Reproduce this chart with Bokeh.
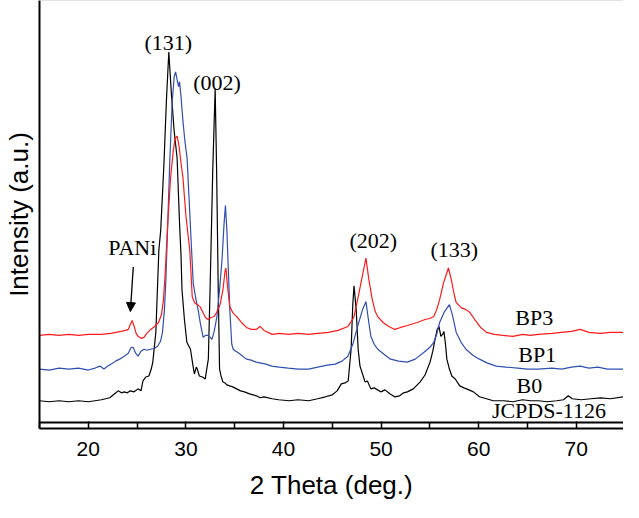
from bokeh.plotting import figure
from bokeh.models import Range1d, Span, Arrow, NormalHead, SingleIntervalTicker, FixedTicker
from bokeh.core.properties import value
from bokeh.embed import file_html
from bokeh.resources import INLINE

# ---------------- data (2 theta in degrees, intensity in a.u.) ----------------
b0_x = [15.0, 16.0, 17.0, 18.0, 19.0, 20.0, 21.35, 22.2, 22.7, 23.07, 23.4, 23.68, 24.0, 24.3, 24.69,
        25.1, 25.4, 25.6, 25.9, 26.21, 26.45, 26.61, 26.92, 27.23, 27.42, 27.75, 28.0, 28.25, 28.5,
        28.8, 29.1, 29.35, 29.5, 29.6, 29.85, 30.1, 30.47, 30.7, 30.87, 31.07, 31.17, 31.38, 31.7,
        31.98, 32.3, 32.5, 32.75, 33.0, 33.15, 33.3, 33.45, 33.6, 33.79, 34.0, 34.2, 34.49, 34.8,
        35.2, 35.6, 36.0, 36.52, 36.9, 37.22, 37.6, 38.0, 38.84, 39.5, 40.56, 41.5, 42.58, 43.5,
        44.3, 45.0, 45.5, 45.92, 46.3, 46.63, 46.93, 47.1, 47.23, 47.45, 47.65, 47.84, 48.1, 48.35,
        48.6, 48.95, 49.3, 49.96, 50.4, 50.9, 51.38, 51.9, 52.3, 52.69, 53.3, 54.01, 54.5, 55.02,
        55.3, 55.53, 55.75, 55.93, 56.13, 56.3, 56.44, 56.6, 56.74, 57.0, 57.25, 57.6, 58.06, 58.5,
        59.0, 59.47, 60.08, 60.8, 61.49, 62.5, 63.5, 64.5, 65.3, 66.14, 67.0, 68.0, 68.7, 69.18,
        69.58, 70.5, 71.5, 72.5, 73.5, 74.84]
b0_y = [28, 27, 28, 27, 28, 27, 29, 31, 35, 38, 36, 37, 36, 38, 37,
        40, 38, 48, 52, 53, 60, 67, 97, 180, 200, 267, 330, 380, 340,
        300, 273, 207, 175, 140, 110, 87, 80, 65, 55, 62, 60, 53, 52,
        50, 70, 150, 260, 343, 260, 150, 60, 53, 47, 46, 44, 43, 42,
        40, 38, 37, 35, 34, 33, 31, 32, 30, 29, 28, 29, 28, 30,
        32, 34, 38, 45, 46, 48, 80, 125, 144, 120, 80, 63, 55, 47,
        48, 40, 41, 37, 39, 35, 32, 33, 36, 37, 40, 47, 54, 67,
        78, 90, 100, 103, 93, 95, 98, 85, 70, 60, 53, 50, 43, 41,
        39, 37, 32, 30, 28, 28, 27, 29, 28, 28, 27, 28, 29, 33,
        30, 29, 30, 31, 30, 32]

bp1_x = [15.0, 16.0, 17.0, 18.0, 19.0, 20.0, 20.7, 21.2, 21.6, 22.0, 22.36, 22.8, 23.2, 23.68, 24.1,
         24.4, 24.59, 24.85, 25.1, 25.4, 25.7, 26.0, 26.4, 26.8, 27.1, 27.4, 27.6, 27.8, 27.95, 28.15,
         28.35, 28.6, 28.8, 28.95, 29.1, 29.25, 29.35, 29.5, 29.7, 29.9, 30.12, 30.45, 30.75, 31.0,
         31.25, 31.5, 31.77, 32.0, 32.27, 32.5, 32.67, 32.9, 33.18, 33.45, 33.7, 33.9, 34.05, 34.2,
         34.35, 34.5, 34.7, 34.85, 35.1, 35.3, 35.7, 36.2, 36.7, 37.2, 37.7, 38.2, 38.8, 39.55, 40.5,
         41.5, 42.58, 43.5, 44.5, 45.3, 46.0, 46.6, 47.1, 47.6, 48.1, 48.45, 48.7, 48.95, 49.3, 49.66,
         50.3, 50.97, 51.8, 52.69, 53.5, 54.4, 55.0, 55.4, 55.7, 56.0, 56.5, 57.0, 57.3, 57.7, 58.2,
         58.7, 59.4, 60.08, 60.9, 61.8, 62.8, 64.0, 65.0, 66.1, 67.5, 68.5, 69.5, 70.4, 71.3, 72.2,
         73.2, 74.84]
bp1_y = [60, 59, 61, 60, 61, 59, 61, 63, 60, 63, 65, 68, 70, 73, 76,
         82, 82, 76, 73, 78, 80, 79, 80, 81, 83, 88, 97, 120, 150, 210,
         270, 330, 355, 360, 352, 345, 350, 335, 310, 290, 273, 207, 147, 132,
         120, 105, 92, 94, 94, 92, 90, 98, 113, 140, 170, 205, 225, 200,
         160, 120, 85, 80, 78, 77, 74, 70, 69, 67, 66, 65, 63, 62, 61,
         60, 60, 62, 64, 65, 68, 73, 85, 103, 120, 128, 110, 93, 85, 80,
         75, 70, 68, 67, 70, 77, 82, 87, 95, 107, 118, 125, 115, 97, 87,
         80, 74, 70, 66, 63, 62, 61, 60, 60, 61, 60, 62, 63, 61, 62,
         60, 60]

bp3_x = [15.0, 16.0, 17.0, 18.0, 19.0, 20.0, 21.35, 22.3, 23.37, 23.8, 24.1, 24.3, 24.5, 24.7, 24.9,
         25.1, 25.4, 25.7, 26.0, 26.4, 26.8, 27.2, 27.5, 27.7, 27.9, 28.1, 28.43, 28.7, 28.9, 29.1,
         29.3, 29.5, 29.7, 30.0, 30.4, 30.65, 30.9, 31.2, 31.45, 31.7, 32.0, 32.27, 32.6, 32.9, 33.2,
         33.5, 33.8, 34.0, 34.1, 34.25, 34.5, 34.8, 35.2, 35.7, 36.2, 36.7, 37.2, 37.6, 38.0, 38.84,
         39.6, 40.5, 41.5, 42.58, 43.5, 44.6, 45.6, 46.6, 47.2, 47.6, 48.0, 48.45, 48.75, 49.1, 49.4,
         49.66, 50.2, 50.8, 51.4, 52.0, 52.7, 53.7, 54.5, 55.0, 55.4, 55.7, 56.0, 56.4, 56.9, 57.2,
         57.5, 57.7, 58.2, 58.7, 59.1, 59.6, 60.2, 60.8, 61.6, 62.5, 63.5, 64.5, 65.3, 66.1, 67.5,
         68.5, 69.5, 70.4, 71.3, 72.5, 73.5, 74.84]
bp3_y = [94, 95, 94, 95, 94, 95, 95, 96, 98, 99, 100, 105, 109, 103, 96,
         93, 91, 92, 96, 100, 103, 107, 115, 130, 160, 200, 253, 280, 293, 295,
         285, 268, 253, 215, 180, 133, 127, 125, 123, 118, 112, 110, 112, 113, 118,
         125, 140, 158, 162, 145, 123, 117, 113, 107, 102, 100, 100, 103, 99, 95,
         96, 95, 96, 95, 96, 97, 99, 103, 112, 130, 150, 172, 150, 130, 118,
         113, 107, 103, 100, 102, 104, 107, 110, 111, 113, 120, 130, 147, 162, 150,
         135, 127, 122, 120, 117, 110, 102, 97, 95, 94, 93, 95, 94, 95, 96,
         97, 98, 100, 97, 96, 97, 97]

peak_labels = ["(131)", "(002)", "(202)", "(133)", "PANi"]
peak_label_x = [28.2, 33.2, 49.2, 57.5, 24.5]
peak_label_y = [390, 349, 190, 181, 183]

series_labels = ["BP3", "BP1", "B0", "JCPDS-1126"]
series_label_x = [65.7, 66.0, 65.2, 67.2]
series_label_y = [112, 75, 43, 18]

x_ticks = [20, 30, 40, 50, 60, 70]

# ---------------- figure ----------------
p = figure(width=623, height=502, output_backend="svg", toolbar_location=None,
           x_range=Range1d(15, 74.84), y_range=Range1d(0, 432),
           min_border_left=34, min_border_right=0, min_border_top=0, min_border_bottom=72)
p.outline_line_color = None
p.grid.visible = False
p.background_fill_color = "white"
p.border_fill_color = "white"

p.line(b0_x, b0_y, line_color="#000000", line_width=1.2)
p.line(bp1_x, bp1_y, line_color="#2f4fb0", line_width=1.2)
p.line(bp3_x, bp3_y, line_color="#ff1a1a", line_width=1.2)

serif = value("Liberation Serif")
p.text(x=peak_label_x, y=peak_label_y, text=peak_labels, text_font=serif,
       text_font_size="22px", text_align="center", text_baseline="middle", text_color="black")
p.text(x=series_label_x, y=series_label_y, text=series_labels, text_font=serif,
       text_font_size="22px", text_align="center", text_baseline="middle", text_color="black")

p.add_layout(Arrow(end=NormalHead(size=9, fill_color="black", line_color="black", line_width=1),
                   x_start=24.61, y_start=163, x_end=24.31, y_end=118,
                   line_color="black", line_width=1.3))

# top light frame line and inner axis line
p.add_layout(Span(location=432, dimension="width", line_color="#c8c8c8", line_width=1))
p.add_layout(Span(location=6, dimension="width", line_color="black", line_width=2))

xa = p.xaxis[0]
xa.ticker = FixedTicker(ticks=x_ticks, minor_ticks=[15, 25, 35, 45, 55, 65])
xa.axis_line_width = 2
xa.axis_line_color = "black"
xa.major_tick_in = 7
xa.major_tick_out = 0
xa.minor_tick_in = 6
xa.minor_tick_out = 0
xa.major_tick_line_width = 1.5
xa.minor_tick_line_width = 1.5
xa.major_tick_line_color = "black"
xa.minor_tick_line_color = "black"
xa.major_label_text_font = "Liberation Sans"
xa.major_label_text_font_size = "21px"
xa.major_label_text_color = "black"
xa.major_label_standoff = 13
xa.axis_label = "2 Theta (deg.)"
xa.axis_label_text_font = "Liberation Sans"
xa.axis_label_text_font_size = "26px"
xa.axis_label_text_font_style = "normal"
xa.axis_label_text_color = "black"
xa.axis_label_standoff = 11

ya = p.yaxis[0]
ya.ticker = FixedTicker(ticks=[])
ya.axis_line_width = 2
ya.axis_line_color = "black"
ya.major_tick_line_color = None
ya.minor_tick_line_color = None
ya.major_label_standoff = 0
ya.axis_label = "Intensity (a.u.)"
ya.axis_label_text_font = "Liberation Sans"
ya.axis_label_text_font_size = "26px"
ya.axis_label_text_font_style = "normal"
ya.axis_label_text_color = "black"
ya.axis_label_standoff = 6

open("out.html", "w").write(file_html(p, INLINE))
